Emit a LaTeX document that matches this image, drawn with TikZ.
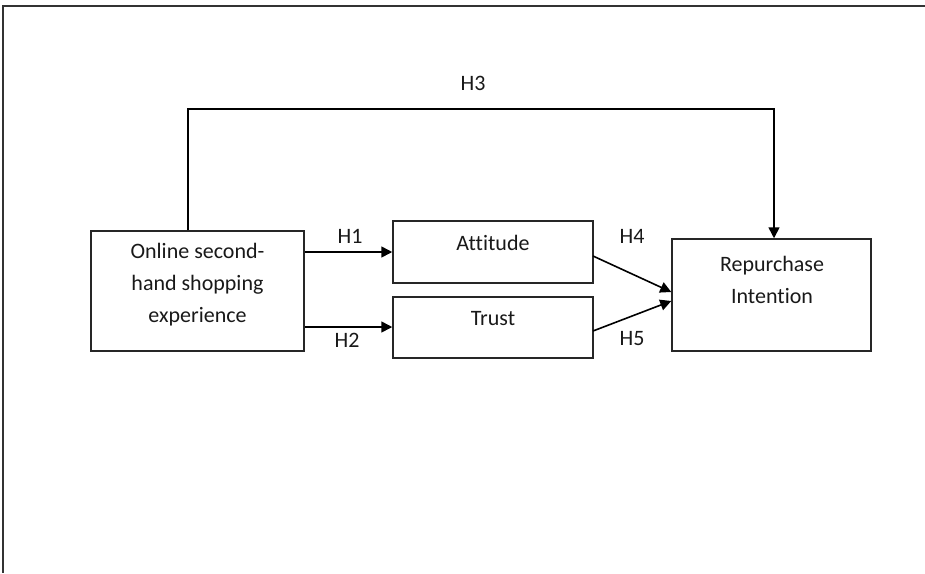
\documentclass[tikz,border=0pt]{standalone}
\usepackage{fontspec}
\setmainfont[Ligatures={NoCommon}]{Carlito}
\usetikzlibrary{arrows.meta}
\begin{document}
\begin{tikzpicture}[x=1pt,y=-1pt,
  box/.style={draw=black!85,line width=1.5pt,inner sep=0pt},
  txt/.style={font=\fontsize{22}{32}\selectfont,text=black!90,align=center,inner sep=0pt},
  lbl/.style={font=\fontsize{22}{26}\selectfont,text=black!90,inner sep=0pt},
  arr/.style={draw=black,line width=1.6pt,-{Triangle[length=11pt,width=11pt]}}]
\useasboundingbox (0,0) rectangle (925,573);
% frame
\draw[line width=2pt,black!80] (925,6) -- (3,6) -- (3,573);
% boxes
\node[box,minimum width=213pt,minimum height=120pt] (onl) at (197.5,291) {};
\node[txt] (onlt) at (197.5,285) {Online second-\\hand shopping\\experience};
\node[box,minimum width=200pt,minimum height=62pt] (att) at (493,252) {};
\node[txt] (attt) at (493,243) {Attitude};
\node[box,minimum width=200pt,minimum height=61pt] (tru) at (493,327.5) {};
\node[txt] (trut) at (493,319) {Trust};
\node[box,minimum width=199pt,minimum height=112pt] (rep) at (771.5,295) {};
\node[txt] (rept) at (772,280) {Repurchase\\Intention};
% arrows
\draw[arr] (onl.east |- 0,252) -- (att.west |- 0,252);
\draw[arr] (onl.east |- 0,327) -- (tru.west |- 0,327);
\coordinate (h4s) at (593,256);
\coordinate (h5s) at (593,331);
\draw[arr] (h4s) -- (rep.west |- 0,292);
\draw[arr] (h5s) -- (rep.west |- 0,301);
\coordinate (c1) at (188,109);
\coordinate (c2) at (774,109);
\draw[arr] (onl.north -| c1) -- (c1) -- (c2) -- (rep.north -| c2);
% labels
\node[lbl] (l1) at (350,236) {H1};
\node[lbl] (l2) at (347,340) {H2};
\node[lbl] (l3) at (473,83) {H3};
\node[lbl] (l4) at (632,236) {H4};
\node[lbl] (l5) at (632,339) {H5};
\end{tikzpicture}
\end{document}
